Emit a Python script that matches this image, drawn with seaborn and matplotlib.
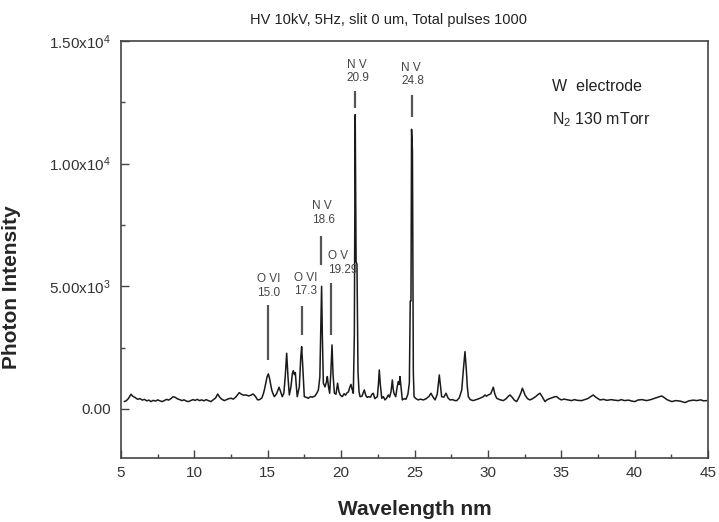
import matplotlib
matplotlib.use("Agg")
import matplotlib.pyplot as plt
from matplotlib.ticker import MultipleLocator
import numpy as np
import pandas as pd
import seaborn as sns

# spectrum trace, (wavelength nm, photon counts)
trace_5_15 = [
    (5.22, 300), (5.35, 330), (5.5, 420), (5.68, 600), (5.8, 520), (5.95, 470),
    (6.13, 395), (6.3, 420), (6.45, 360), (6.6, 390), (6.75, 330), (6.9, 360),
    (7.04, 300), (7.2, 350), (7.35, 320), (7.5, 370), (7.65, 330), (7.8, 300),
    (7.95, 340), (8.1, 390), (8.25, 360), (8.4, 420), (8.55, 500), (8.7, 470),
    (8.85, 410), (9.0, 380), (9.15, 340), (9.3, 370), (9.45, 320), (9.6, 300),
    (9.75, 340), (9.9, 380), (10.05, 350), (10.2, 390), (10.35, 340), (10.5, 370),
    (10.65, 330), (10.8, 380), (10.95, 340), (11.13, 300), (11.3, 380), (11.45, 450),
    (11.59, 610), (11.7, 500), (11.85, 400), (12.04, 340), (12.2, 380), (12.35, 420),
    (12.5, 435), (12.65, 400), (12.8, 470), (12.95, 580), (13.06, 665), (13.2, 600),
    (13.35, 560), (13.52, 570), (13.7, 530), (13.85, 560), (14.0, 610), (14.15, 520),
    (14.31, 370), (14.45, 380), (14.6, 450), (14.7, 620), (14.77, 775), (14.88, 1100),
    (14.95, 1300),
]
trace_15_21 = [
    (15.04, 1430), (15.12, 1250), (15.2, 1000), (15.27, 775), (15.37, 600), (15.45, 500),
    (15.6, 620), (15.77, 885), (15.88, 700), (15.99, 500), (16.1, 650), (16.2, 1400),
    (16.29, 2270), (16.38, 1300), (16.47, 570), (16.58, 900), (16.68, 1450), (16.74, 1560),
    (16.82, 1400), (16.88, 1480), (16.95, 900), (17.01, 500), (17.15, 900), (17.25, 2100),
    (17.31, 2540), (17.38, 1800), (17.49, 500), (17.6, 480), (17.76, 435), (17.9, 500),
    (18.05, 480), (18.22, 530), (18.35, 650), (18.45, 775), (18.55, 1300), (18.62, 3500),
    (18.67, 5000), (18.72, 3000), (18.79, 1050), (18.9, 900), (19.0, 1100), (19.06, 1320),
    (19.14, 900), (19.22, 640), (19.3, 1500), (19.38, 2610), (19.45, 1400), (19.54, 640),
    (19.65, 600), (19.76, 1050), (19.85, 700), (19.95, 560), (20.08, 500), (20.2, 620),
    (20.3, 560), (20.38, 640), (20.5, 700), (20.6, 900), (20.67, 1000), (20.75, 800),
    (20.83, 640), (20.9, 3000), (20.96, 12000), (21.02, 6000), (21.08, 5900),
]
trace_21_29 = [
    (21.15, 1500), (21.22, 700), (21.29, 500), (21.42, 520), (21.5, 650), (21.58, 775),
    (21.68, 550), (21.78, 470), (21.85, 500), (22.0, 480), (22.1, 600), (22.19, 640),
    (22.3, 420), (22.47, 500), (22.54, 1000), (22.6, 1590), (22.67, 1000), (22.77, 435),
    (22.88, 500), (22.99, 367), (23.1, 440), (23.21, 570), (23.3, 480), (23.4, 700),
    (23.49, 1180), (23.55, 800), (23.6, 640), (23.72, 500), (23.82, 900), (23.9, 1115),
    (23.96, 1000), (24.01, 1320), (24.08, 900), (24.17, 367), (24.3, 420), (24.42, 395),
    (24.55, 600), (24.65, 1060), (24.71, 4400), (24.76, 4400), (24.8, 11400), (24.86, 10500),
    (24.92, 1500), (24.97, 500), (25.1, 420), (25.26, 367), (25.4, 400), (25.6, 367),
    (25.8, 420), (26.0, 520), (26.12, 640), (26.25, 500), (26.4, 367), (26.55, 600),
    (26.64, 1100), (26.69, 1385), (26.76, 1000), (26.85, 500), (27.0, 480), (27.15, 640),
    (27.28, 450), (27.42, 367), (27.6, 380), (27.75, 340), (27.88, 340), (28.05, 450),
    (28.22, 775), (28.33, 1600), (28.44, 2335), (28.52, 1700), (28.6, 900), (28.67, 500),
    (28.8, 380),
]
trace_29_45 = [
    (29.0, 340), (29.2, 380), (29.4, 420), (29.55, 460), (29.69, 500), (29.8, 570),
    (29.9, 520), (30.03, 570), (30.2, 620), (30.37, 885), (30.48, 600), (30.6, 435),
    (30.8, 380), (31.05, 340), (31.25, 420), (31.4, 520), (31.51, 570), (31.65, 480),
    (31.8, 360), (31.96, 300), (32.1, 450), (32.25, 650), (32.35, 845), (32.45, 700),
    (32.53, 570), (32.7, 420), (32.87, 367), (33.05, 420), (33.25, 500), (33.4, 580),
    (33.55, 640), (33.7, 500), (33.89, 300), (34.05, 380), (34.2, 420), (34.4, 460),
    (34.55, 500), (34.69, 500), (34.85, 420), (35.0, 370), (35.2, 400), (35.48, 367),
    (35.7, 340), (35.9, 380), (36.1, 350), (36.39, 340), (36.6, 380), (36.8, 420),
    (37.0, 500), (37.18, 570), (37.35, 480), (37.64, 367), (37.9, 390), (38.1, 350),
    (38.4, 380), (38.6, 360), (38.89, 340), (39.1, 380), (39.3, 340), (39.6, 360),
    (39.8, 320), (40.03, 300), (40.2, 360), (40.5, 380), (40.82, 340), (41.1, 380),
    (41.4, 440), (41.6, 480), (41.84, 530), (42.0, 470), (42.2, 380), (42.53, 300),
    (42.8, 340), (43.1, 320), (43.43, 260), (43.7, 330), (44.0, 360), (44.23, 340),
    (44.5, 370), (44.7, 330), (44.91, 340),
]

# line identifications: label, marker x, marker y range, text left x, text bottom y
ion_labels = ["O VI\n15.0", "O VI\n17.3", "N V\n18.6", "O V\n19.29", "N V\n20.9", "N V\n24.8"]
ion_x = [15.0, 17.35, 18.6, 19.33, 20.94, 24.81]
ion_y0 = [2000, 3020, 5870, 3020, 12260, 11890]
ion_y1 = [4240, 4200, 7050, 5125, 12980, 12800]
ion_text_x = [14.29, 16.81, 18.0, 19.13, 20.38, 24.08]
ion_text_y = [4500, 4550, 7470, 5430, 13230, 13110]

y_ticks = [0, 5000, 10000, 15000]
y_tick_labels = ["0.00", "5.00x10$^3$", "1.00x10$^4$", "1.50x10$^4$"]
x_ticks = [5, 10, 15, 20, 25, 30, 35, 40, 45]

spec = pd.DataFrame(trace_5_15 + trace_15_21 + trace_21_29 + trace_29_45,
                    columns=["wavelength", "intensity"])

sns.set_style("ticks")
plt.rcParams["font.family"] = ["Liberation Sans", "DejaVu Sans"]
plt.rcParams["mathtext.default"] = "regular"

fig = plt.figure(figsize=(7.19, 5.22), dpi=100)
ax = fig.add_axes([121 / 719, 1 - 458 / 522, 587 / 719, 417 / 522])

sns.lineplot(data=spec, x="wavelength", y="intensity", ax=ax, color="#1a1a1a",
             linewidth=1.1, sort=False, estimator=None)

for lab, x, y0, y1, tx, ty in zip(ion_labels, ion_x, ion_y0, ion_y1, ion_text_x, ion_text_y):
    ax.plot([x, x], [y0, y1], color="#555555", lw=1.6, solid_capstyle="butt")
    ax.text(tx, ty, lab, ha="left", va="bottom", fontsize=8.5, color="#444444",
            linespacing=1.15)

ax.text(34.36, 13140, "W  electrode", fontsize=11.5, va="center", ha="left", color="#222222")
ax.text(34.36, 11780, "N$_2$ 130 mTorr", fontsize=11.5, va="center", ha="left", color="#222222")

ax.set_xlim(5, 45)
ax.set_ylim(-2000, 15000)
ax.set_xticks(x_ticks)
ax.set_xticklabels([str(t) for t in x_ticks])
ax.xaxis.set_minor_locator(MultipleLocator(2.5))
ax.set_yticks(y_ticks)
ax.set_yticklabels(y_tick_labels)
ax.yaxis.set_minor_locator(MultipleLocator(2500))
ax.tick_params(which="major", direction="in", length=6, width=1.0, color="#444444",
               labelsize=11, labelcolor="#333333", pad=6)
ax.tick_params(which="minor", direction="in", length=3, width=1.0, color="#444444")
ax.tick_params(axis="y", pad=7)

for side in ["top", "right", "left", "bottom"]:
    ax.spines[side].set_visible(True)
    ax.spines[side].set_color("#444444")
    ax.spines[side].set_linewidth(1.2)

ax.set_xlabel("Wavelength nm", fontsize=15, fontweight="bold", labelpad=14)
ax.set_ylabel("Photon Intensity", fontsize=15, fontweight="bold", labelpad=8)
ax.yaxis.set_label_coords(-0.17, 0.41)

fig.text(389 / 719, 1 - 20 / 522, "HV 10kV, 5Hz, slit 0 um, Total pulses 1000",
         ha="center", va="center", fontsize=10.5, color="#222222")

fig.savefig("out.png", dpi=100)
